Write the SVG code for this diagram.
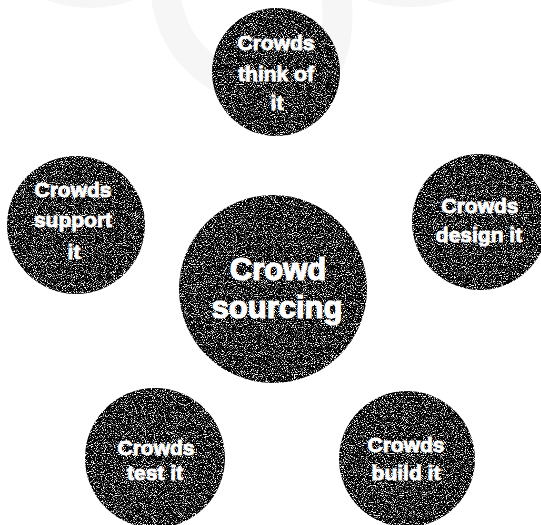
<svg xmlns="http://www.w3.org/2000/svg" width="541" height="525" viewBox="0 0 541 525">
  <defs>
    <filter id="grain" x="0" y="0" width="1" height="1" color-interpolation-filters="sRGB">
      <feTurbulence type="fractalNoise" baseFrequency="0.9" numOctaves="2" seed="7" result="t"/>
      <feColorMatrix in="t" type="matrix" values="0 0 0 0 0  0 0 0 0 0  0 0 0 0 0  6 0 0 0 -1.9" result="a"/>
      <feComposite in="a" in2="SourceGraphic" operator="in"/>
    </filter>
  </defs>
  <style>
    .bg { fill: #f6f6f6; stroke: none; }
    .band { fill: none; stroke: #f6f6f6; stroke-width: 30; stroke-linecap: round; }
    .disc { fill: #000; filter: url(#grain); }
    .lbl { fill: #ffffff; stroke: #ffffff; stroke-width: 0.9; font-family: "Liberation Sans", Arial, sans-serif; font-weight: bold; text-anchor: middle; font-size: 21px; }
    .big { font-size: 31px; stroke-width: 1.2; }
  </style>
  <rect width="541" height="525" fill="#ffffff"/>
  <g id="background">
    <ellipse class="bg" cx="90" cy="-30" rx="70" ry="38"/>
    <ellipse class="bg" cx="410" cy="-26" rx="72" ry="33"/>
    <path class="band" d="M165,-20 C165,55 225,92 275,92 C325,92 345,55 335,-20"/>
  </g>
  <g id="connectors"/>
  <g id="node-top">
    <circle class="disc" cx="276" cy="72" r="64"/>
    <text class="lbl" x="276" y="50">Crowds</text>
    <text class="lbl" x="276" y="81">think of</text>
    <text class="lbl" x="277" y="110">it</text>
  </g>
  <g id="node-center">
    <circle class="disc" cx="273" cy="289" r="94"/>
    <text class="lbl big" x="278" y="280">Crowd</text>
    <text class="lbl big" x="277" y="318">sourcing</text>
  </g>
  <g id="node-left">
    <circle class="disc" cx="76" cy="225" r="69"/>
    <text class="lbl" x="73" y="197">Crowds</text>
    <text class="lbl" x="73" y="227">support</text>
    <text class="lbl" x="74" y="259">it</text>
  </g>
  <g id="node-right">
    <circle class="disc" cx="480" cy="222" r="68"/>
    <text class="lbl" x="480" y="213">Crowds</text>
    <text class="lbl" x="479" y="242">design it</text>
  </g>
  <g id="node-bottom-left">
    <circle class="disc" cx="155" cy="458" r="70"/>
    <text class="lbl" x="156" y="455">Crowds</text>
    <text class="lbl" x="155" y="480">test it</text>
  </g>
  <g id="node-bottom-right">
    <circle class="disc" cx="407" cy="459" r="68"/>
    <text class="lbl" x="406" y="452">Crowds</text>
    <text class="lbl" x="406" y="480">build it</text>
  </g>
</svg>
